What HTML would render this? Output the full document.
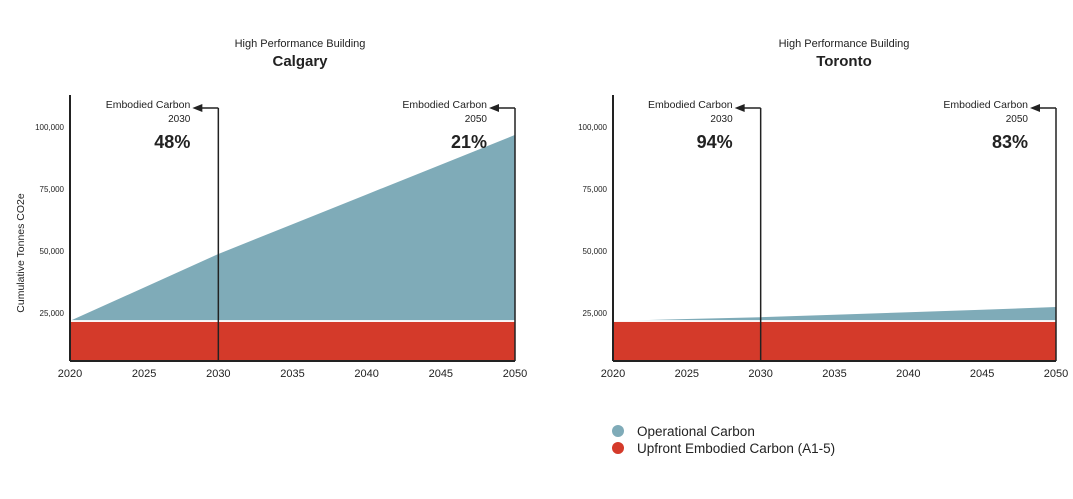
<!DOCTYPE html>
<html><head><meta charset="utf-8"><style>
body{margin:0;background:#fff;width:1073px;height:494px;overflow:hidden;font-family:"Liberation Sans",sans-serif}
svg text{font-family:"Liberation Sans",sans-serif;fill:#222}
</style></head><body>
<svg id="c" width="1073" height="494"></svg>
<script>
const years=[2020,2025,2030,2035,2040,2045,2050];
const xTicks=[2020,2025,2030,2035,2040,2045,2050];
const yTicks=[25000,50000,75000,100000];
const yTickLabels=["25,000","50,000","75,000","100,000"];
const embodied=21800;
const calgaryTotal=[21800,35300,48800,60800,72800,84800,96800];
const torontoTotal=[21800,22600,23300,24300,25300,26300,27400];
const cities=["Calgary","Toronto"];
const pct2030=["48%","94%"];
const pct2050=["21%","83%"];
const NS="http://www.w3.org/2000/svg";
const svg=document.getElementById('c');
function mk(t,a,p){const e=document.createElementNS(NS,t);for(const k in a)e.setAttribute(k,a[k]);(p||svg).appendChild(e);return e;}
const panels=[{x0:70,x1:515,cx:300,data:calgaryTotal},{x0:613,x1:1056,cx:844,data:torontoTotal}];
const yBase=361;
function yS(v){return 313-(v-25000)*62/25000;}
const yMin=25000-(yBase-313)*25000/62;
panels.forEach((p,i)=>{
  const g=mk('g',{});
  
  
  const xS=y=>p.x0+(y-2020)*(p.x1-p.x0)/30;
  let t=mk('text',{x:p.cx,y:47,'text-anchor':'middle','font-size':11},g);t.textContent='High Performance Building';
  
  t=mk('text',{x:p.cx,y:66,'text-anchor':'middle','font-size':15,'font-weight':'bold'},g);t.textContent=cities[i];
  
  // operational area
  let d='M'+xS(years[0])+','+yS(embodied);
  years.forEach((y,j)=>{d+=' L'+xS(y)+','+yS(p.data[j]);});
  d+=' L'+xS(2050)+','+yS(embodied)+' Z';
  let a=mk('path',{d:d,fill:'#7fabb8'},g);
  
  a=mk('rect',{x:xS(2020),y:yS(embodied)+1,width:xS(2050)-xS(2020),height:yBase-yS(embodied)-1,fill:'#d43a2a'},g);
  
  mk('line',{x1:xS(2020),x2:xS(2050),y1:yS(embodied),y2:yS(embodied),stroke:'#fff','stroke-width':1.5},g);
  // axes
  a=mk('line',{x1:p.x0,x2:p.x0,y1:95,y2:yBase,stroke:'#222','stroke-width':2},g);
  
  a=mk('line',{x1:p.x0,x2:p.x1,y1:yBase,y2:yBase,stroke:'#222','stroke-width':2},g);
  
  xTicks.forEach(y=>{const tt=mk('text',{x:xS(y),y:377,'text-anchor':'middle','font-size':11},g);tt.textContent=y;
    });
  yTicks.forEach((v,j)=>{const tt=mk('text',{x:p.x0-6,y:yS(v)+3,'text-anchor':'end','font-size':8},g);tt.textContent=yTickLabels[j];
    });
  // markers
  [[2030,pct2030[i],'2030'],[2050,pct2050[i],'2050']].forEach(([yr,pc,lab])=>{
    const x=xS(yr);
    const m=mk('line',{x1:x,x2:x,y1:108,y2:yBase,stroke:'#222','stroke-width':1.5},g);
    
    mk('line',{x1:x,x2:x-18,y1:108,y2:108,stroke:'#222','stroke-width':1.5},g);
    mk('path',{d:`M${x-26},108 L${x-16},104 L${x-16},112 Z`,fill:'#222'},g);
    const rx=x-28;
    let e=mk('text',{x:rx,y:108,'text-anchor':'end','font-size':10.5},g);e.textContent='Embodied Carbon';
    
    e=mk('text',{x:rx,y:122,'text-anchor':'end','font-size':10},g);e.textContent=lab;
    
    e=mk('text',{x:rx,y:148,'text-anchor':'end','font-size':18,'font-weight':'bold'},g);e.textContent=pc;
    
  });
});
let yt=mk('text',{x:24,y:253,'text-anchor':'middle','font-size':10.5,transform:'rotate(-90 24 253)'});yt.textContent='Cumulative Tonnes CO2e';

const leg=[['#7fabb8','Operational Carbon',431],['#d43a2a','Upfront Embodied Carbon (A1-5)',448]];
leg.forEach(([c,l,y])=>{
  const g=mk('g',{});
  
  mk('circle',{cx:618,cy:y,r:6,fill:c},g);
  const t=mk('text',{x:637,y:y+5,'font-size':13.5,fill:'#333'},g);t.textContent=l;
});
</script>
</body></html>
